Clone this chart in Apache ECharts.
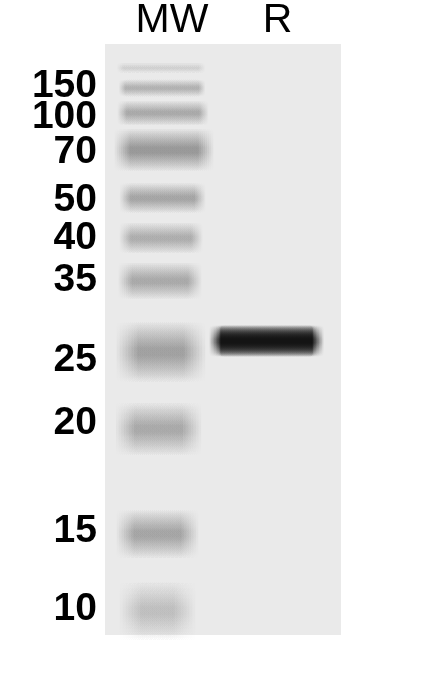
<!DOCTYPE html>
<html>
<head>
<meta charset="utf-8">
<script src="https://cdn.jsdelivr.net/npm/echarts@6/dist/echarts.min.js"></script>
<style>
html, body { margin: 0; padding: 0; background: #fff; }
#gel { width: 446px; height: 678px; }
</style>
</head>
<body>
<div id="gel"></div>
<script>
// lane headers and marker labels (migration in % of gel length, 0 = top)
var laneNames = ['MW', 'R'];
var lanePos = [28.4, 73.1];
var mwLabels = ['150', '100', '70', '50', '40', '35', '25', '20', '15', '10'];
var labelPos = [7.1, 12.4, 18.4, 26.4, 32.8, 39.9, 53.5, 64.1, 82.4, 95.6];

// ladder bands: migration, thickness, left / right edge (% of gel width), intensity
var ladderY = [4.06, 7.45, 11.68, 17.94, 26.06, 32.83, 40.10, 52.12, 65.14, 82.91, 95.94];
var ladderTh = [1.0, 1.7, 2.4, 4.1, 2.9, 3.0, 3.6, 5.8, 5.1, 4.7, 5.8];
var ladderX0 = [6.4, 7.2, 7.2, 7.2, 8.5, 8.5, 8.5, 9.3, 8.5, 8.5, 10.6];
var ladderX1 = [41.1, 41.1, 41.9, 42.8, 40.3, 39.0, 38.1, 38.1, 36.9, 36.0, 33.9];
var ladderInt = [0.13, 0.26, 0.30, 0.38, 0.32, 0.28, 0.30, 0.34, 0.30, 0.32, 0.20];

// sample lane R
var sampleY = [50.25];
var sampleTh = [3.0];
var sampleX0 = [46.6];
var sampleX1 = [90.3];
var sampleInt = [1.0];

var chart = echarts.init(document.getElementById('gel'));

function rows(x0, x1, y, th, k) {
	var out = [];
	for (var i = 0; i < y.length; i++) out.push([x0[i], x1[i], y[i], th[i], k[i]]);
	return out;
}

// a blurred band: vertical gradient profile, horizontal ends softened by stacked layers
function bandItem(params, api) {
	var pa = api.coord([api.value(0), api.value(2)]);
	var pb = api.coord([api.value(1), api.value(2)]);
	var h = api.size([0, api.value(3)])[1];
	var a = api.value(4);
	var s = Math.max(3, h * 0.4);
	var sx = Math.max(3, h * 0.3);
	var H = h + 2 * s;
	var e = Math.min(0.5, 2 * s / H);
	var L = 8;
	var kids = [];
	var prev = 0;
	for (var i = 0; i < L; i++) {
		var c = (i + 1) / L * a;
		var alpha = 1 - (1 - c) / (1 - prev);
		prev = c;
		var off = sx - 2 * sx * i / (L - 1);
		var col = function (k) { return 'rgba(20,20,20,' + (alpha * k).toFixed(4) + ')'; };
		kids.push({
			type: 'rect',
			shape: { x: pa[0] - off, y: pa[1] - H / 2, width: pb[0] - pa[0] + 2 * off, height: H, r: 4 },
			style: {
				fill: {
					type: 'linear', x: 0, y: 0, x2: 0, y2: 1,
					colorStops: [
						{ offset: 0, color: col(0) },
						{ offset: e * 0.5, color: col(0.5) },
						{ offset: e, color: col(1) },
						{ offset: 1 - e, color: col(1) },
						{ offset: 1 - e * 0.5, color: col(0.5) },
						{ offset: 1, color: col(0) }
					]
				}
			}
		});
	}
	return { type: 'group', children: kids };
}

// the marker labels sit close together, so split them over two stacked left axes
function markerAxis(parity) {
	var vals = labelPos.filter(function (v, i) { return i % 2 === parity; });
	return {
		type: 'value', min: 0, max: 100, inverse: true, position: 'left', offset: 0,
		axisLine: { show: false }, axisTick: { show: false }, splitLine: { show: false },
		axisLabel: {
			customValues: vals,
			formatter: function (v) { return mwLabels[labelPos.indexOf(v)]; },
			fontFamily: 'Liberation Sans', fontWeight: 'bold', fontSize: 39, color: '#000',
			hideOverlap: false, showMinLabel: true, showMaxLabel: true, margin: 8
		}
	};
}

var option = {
	backgroundColor: '#fff',
	animation: false,
	grid: {
		left: 105, top: 44, width: 236, height: 591,
		show: true, backgroundColor: '#eaeaea', borderWidth: 0,
		containLabel: false, outerBoundsMode: 'none'
	},
	xAxis: [{
		type: 'value', min: 0, max: 100, show: false
	}, {
		type: 'value', min: 0, max: 100, position: 'top',
		axisLine: { show: false }, axisTick: { show: false }, splitLine: { show: false },
		axisLabel: {
			customValues: lanePos,
			formatter: function (v) { return laneNames[lanePos.indexOf(v)]; },
			fontFamily: 'Liberation Sans', fontSize: 41, color: '#000',
			margin: 3, verticalAlign: 'bottom'
		}
	}],
	yAxis: [markerAxis(0), markerAxis(1)],
	series: [{
		name: 'MW',
		type: 'custom',
		renderItem: bandItem,
		encode: { x: [0, 1], y: 2 },
		data: rows(ladderX0, ladderX1, ladderY, ladderTh, ladderInt)
	}, {
		name: 'R',
		type: 'custom',
		renderItem: bandItem,
		encode: { x: [0, 1], y: 2 },
		data: rows(sampleX0, sampleX1, sampleY, sampleTh, sampleInt)
	}]
};

chart.setOption(option);

window.onresize = function () {
	chart.resize();
};
</script>
</body>
</html>
